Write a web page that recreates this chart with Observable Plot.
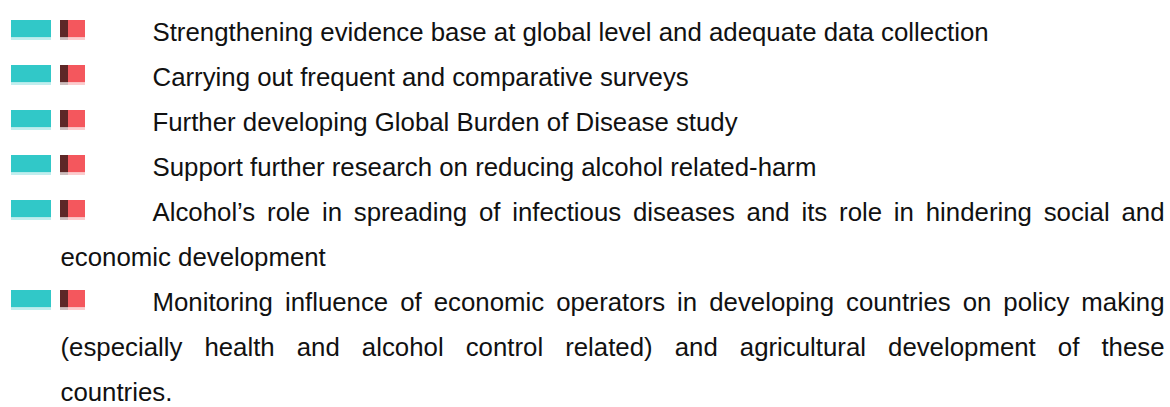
<!DOCTYPE html>
<html>
<head>
<meta charset="utf-8">
<script src="https://cdn.jsdelivr.net/npm/d3@7"></script>
<script src="https://cdn.jsdelivr.net/npm/@observablehq/plot@0.6"></script>
<style>
  html, body { margin: 0; padding: 0; background: #fff; overflow: hidden; }
  #chart svg { display: block; }
</style>
</head>
<body>
<div id="chart"></div>
<script>
// ---- data ----
const lineTexts = [
  "Strengthening evidence base at global level and adequate data collection",
  "Carrying out frequent and comparative surveys",
  "Further developing Global Burden of Disease study",
  "Support further research on reducing alcohol related-harm",
  "Alcohol\u2019s role in spreading of infectious diseases and its role in hindering social and",
  "economic development",
  "Monitoring influence of economic operators in developing countries on policy making",
  "(especially health and alcohol control related) and agricultural development of these",
  "countries."
];
// index of the item each line belongs to
const lineItem = [0, 1, 2, 3, 4, 4, 5, 5, 5];
// whether the line starts an item (gets the swatch icon)
const lineFirst = [true, true, true, true, true, false, true, false, false];
// whether the line is justified to the full width
const lineJustified = [false, false, false, false, true, false, true, true, false];
// swatch parts of each icon
const swatchParts = ["teal", "dark", "red"];
const swatchColors = ["#31c8c8", "#5e2727", "#f4575d"];

// ---- layout ----
const W = 1170, H = 407;
const fontSize = 25.8;
const firstBaseline = 37.3, lineStep = 45.9;
const textStartFirst = 152, textStartCont = 60, textEnd = 1164;
const swatchX = {teal: [11, 51], dark: [60, 68], red: [68, 85]};

const lines = lineTexts.map((t, i) => ({
  i, text: t, item: lineItem[i], first: lineFirst[i], justified: lineJustified[i],
  x: lineFirst[i] ? textStartFirst : textStartCont
}));
const swatches = [];
lines.filter(d => d.first).forEach(d => {
  swatchParts.forEach((p, k) => swatches.push({i: d.i, part: p, x1: swatchX[p][0], x2: swatchX[p][1]}));
});

const bandTop = firstBaseline - 33;
const plot = Plot.plot({
  width: W,
  height: H,
  margin: 0,
  style: {fontFamily: "'Liberation Sans', Arial, sans-serif", background: "#fff"},
  x: {type: "identity"},
  y: {type: "band", domain: d3.range(lineTexts.length), range: [bandTop, bandTop + lineStep * lineTexts.length], padding: 0, axis: null},
  color: {domain: swatchParts, range: swatchColors},
  marks: [
    // soft lighter fringe under each swatch
    Plot.rect(swatches, {x1: "x1", x2: "x2", y: "i", fill: "part", fillOpacity: 0.3, insetTop: 12, insetBottom: 13}),
    Plot.rect(swatches, {x1: "x1", x2: "x2", y: "i", fill: "part", insetTop: 12, insetBottom: 15.9}),
    Plot.text(lines, {
      x: "x", y: "i", text: "text", textAnchor: "start", lineAnchor: "middle",
      fontSize, fill: "#111", dy: 1.7, className: "line-text"
    })
  ]
});
document.getElementById("chart").appendChild(plot);

// justify the flagged lines by spreading word spacing
const texts = plot.querySelectorAll("g[aria-label='text'] text");
texts.forEach((el, k) => {
  const d = lines[k];
  if (!d || !d.justified) return;
  const spaces = (d.text.match(/ /g) || []).length;
  const target = textEnd - d.x;
  let ws = 0;
  for (let iter = 0; iter < 4; iter++) {
    const len = el.getComputedTextLength();
    ws += (target - len) / spaces;
    el.style.wordSpacing = ws + "px";
  }
});
</script>
</body>
</html>
